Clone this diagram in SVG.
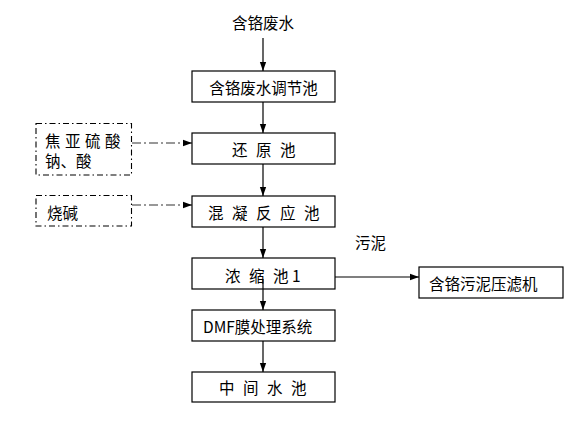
<svg xmlns="http://www.w3.org/2000/svg" width="578" height="421" viewBox="0 0 578 421">
<defs>
<style>
.box{fill:#fff;stroke:#000;stroke-width:1.2}
.dbox{fill:#fff;stroke:#000;stroke-width:1.1;stroke-dasharray:6 3 1.5 3}
.t{font-family:"Noto Sans CJK SC","Liberation Sans",sans-serif;font-size:15.5px;fill:#000;dominant-baseline:central}
.c{text-anchor:middle}
.ln{stroke:#000;stroke-width:1.2;fill:none}
.dl{stroke:#333;stroke-width:1.2;fill:none;stroke-dasharray:9 3 2 3}
</style>
<marker id="ah" viewBox="0 0 10 10" refX="10" refY="5" markerWidth="9" markerHeight="9" markerUnits="userSpaceOnUse" orient="auto">
<path d="M0,1.5 L10,5 L0,8.5 Z" fill="#000"/>
</marker>
</defs>
<rect width="578" height="421" fill="#fff"/>
<g id="connectors">
<line class="ln" x1="263" y1="38" x2="263" y2="71" marker-end="url(#ah)"/>
<line class="ln" x1="263" y1="102" x2="263" y2="133" marker-end="url(#ah)"/>
<line class="ln" x1="263" y1="164" x2="263" y2="196" marker-end="url(#ah)"/>
<line class="ln" x1="263" y1="227" x2="263" y2="258" marker-end="url(#ah)"/>
<line class="ln" x1="263" y1="341" x2="263" y2="372" marker-end="url(#ah)"/>
<line class="ln" x1="335" y1="277" x2="419" y2="277" stroke="#444" marker-end="url(#ah)"/>
<line class="dl" x1="132" y1="143" x2="192" y2="143" marker-end="url(#ah)"/>
<line class="dl" x1="132" y1="205" x2="192" y2="205" marker-end="url(#ah)"/>
</g>
<g id="source"><text class="t c" x="263" y="22">含铬废水</text></g>
<g id="n1"><rect class="box" x="192" y="71" width="143" height="31"/><text class="t c" x="263.5" y="86.5">含铬废水调节池</text></g>
<g id="n2"><rect class="box" x="192" y="133" width="143" height="31"/><text class="t" x="232" y="148.5" xml:space="preserve"><tspan x="232">还</tspan><tspan x="256">原</tspan><tspan x="280">池</tspan></text></g>
<g id="n3"><rect class="box" x="192" y="196" width="143" height="31"/><text class="t" y="211.5"><tspan x="208">混</tspan><tspan x="232">凝</tspan><tspan x="256">反</tspan><tspan x="280">应</tspan><tspan x="304">池</tspan></text></g>
<g id="n4"><rect class="box" x="192" y="258" width="143" height="31"/><text class="t" y="274.5"><tspan x="225">浓</tspan><tspan x="249">缩</tspan><tspan x="273">池</tspan><tspan x="292">1</tspan></text></g>
<line class="ln" x1="263" y1="279" x2="263" y2="310" marker-end="url(#ah)"/>
<g id="n5"><rect class="box" x="192" y="310" width="143" height="31"/><text class="t" x="203" y="325.5">DMF膜处理系统</text></g>
<g id="n6"><rect class="box" x="192" y="372" width="143" height="30"/><text class="t" y="387"><tspan x="219">中</tspan><tspan x="243">间</tspan><tspan x="267">水</tspan><tspan x="291">池</tspan></text></g>
<g id="n7"><rect class="box" x="419" y="267" width="144" height="31"/><text class="t" x="429" y="282.5">含铬污泥压滤机</text></g>
<g id="d1"><rect class="dbox" x="36" y="123.5" width="95.5" height="51.5"/><text class="t" y="140"><tspan x="45">焦</tspan><tspan x="65">亚</tspan><tspan x="85">硫</tspan><tspan x="105">酸</tspan></text><text class="t" x="45" y="160">钠、酸</text></g>
<g id="d2"><rect class="dbox" x="36" y="195.5" width="95.5" height="30.5"/><text class="t" x="47" y="211.5">烧碱</text></g>
<g id="label"><text class="t" x="355" y="241.5">污泥</text></g>
</svg>
